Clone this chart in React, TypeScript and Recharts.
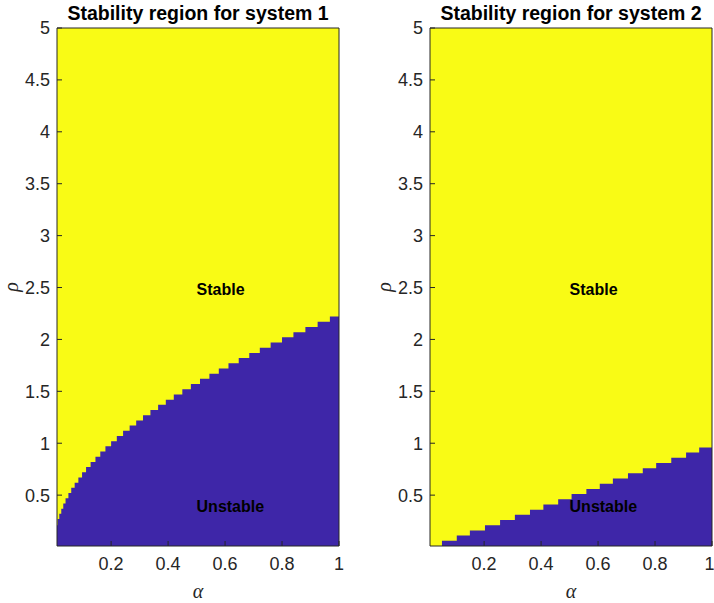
import { ComposedChart, Area, XAxis, YAxis, CartesianGrid, ReferenceDot, Label } from "recharts";

// boundary of the unstable region (alpha -> top of blue area)
const alphaSys1 = [
  0.01, 0.012, 0.018, 0.025, 0.032, 0.04, 0.05, 0.06, 0.072, 0.085, 0.098, 0.112, 0.128, 0.145,
  0.162, 0.18, 0.2, 0.22, 0.242, 0.265, 0.288, 0.312, 0.338, 0.365, 0.392, 0.42, 0.45, 0.48,
  0.512, 0.545, 0.578, 0.612, 0.648, 0.685, 0.722, 0.76, 0.8, 0.84, 0.882, 0.925, 0.968, 1.0,
];
const rhoSys1 = [
  0.21, 0.27, 0.32, 0.37, 0.42, 0.47, 0.52, 0.57, 0.62, 0.67, 0.72, 0.77, 0.82, 0.87,
  0.92, 0.97, 1.02, 1.07, 1.12, 1.17, 1.22, 1.27, 1.32, 1.37, 1.42, 1.47, 1.52, 1.57,
  1.62, 1.67, 1.72, 1.77, 1.82, 1.87, 1.92, 1.97, 2.02, 2.07, 2.12, 2.17, 2.22, 2.22,
];

const alphaSys2 = [
  0.01, 0.052, 0.104, 0.15, 0.203, 0.256, 0.308, 0.361, 0.408, 0.46, 0.507,
  0.559, 0.606, 0.652, 0.705, 0.757, 0.804, 0.857, 0.909, 0.955, 1.0,
];
const rhoSys2 = [
  0.01, 0.06, 0.11, 0.16, 0.21, 0.26, 0.31, 0.36, 0.41, 0.46, 0.51,
  0.56, 0.61, 0.66, 0.71, 0.76, 0.81, 0.86, 0.91, 0.96, 0.96,
];

const alphaTicks = [0.2, 0.4, 0.6, 0.8, 1];
const rhoTicks = [0.5, 1, 1.5, 2, 2.5, 3, 3.5, 4, 4.5, 5];
const titles = ["Stability region for system 1", "Stability region for system 2"];
const regionText = [
  { text: "Stable", alpha: 0.5, rho: 2.48 },
  { text: "Unstable", alpha: 0.5, rho: 0.39 },
];

const STABLE = "#F9FB15";
const UNSTABLE = "#3E26A8";
const AXIS = "#262626";
const SANS = "'Liberation Sans', Arial, sans-serif";
const SERIF = "'Liberation Serif', 'DejaVu Serif', serif";

function Panel({ title, alpha, rho, width, yWidth, right }: any) {
  const data = alpha.map((a: number, i: number) => ({ alpha: a, rho: rho[i] }));
  const rhoX = yWidth - 39;
  return (
    <ComposedChart width={width} height={603} data={data} margin={{ top: 27, right, bottom: 0, left: 0 }}>
      <CartesianGrid horizontal={false} vertical={false} fill={STABLE} fillOpacity={1} />
      <XAxis
        dataKey="alpha"
        type="number"
        domain={[0.01, 1]}
        ticks={alphaTicks}
        allowDataOverflow
        height={57}
        tickSize={-5}
        tickMargin={16}
        stroke={AXIS}
        tick={{ fill: AXIS, fontSize: 18, fontFamily: SANS }}
      >
        <Label value="α" position="insideBottom" offset={5} fill={AXIS} fontSize={20} fontStyle="italic" fontFamily={SERIF} />
      </XAxis>
      <XAxis
        xAxisId="top"
        orientation="top"
        type="number"
        domain={[0.01, 1]}
        ticks={alphaTicks}
        allowDataOverflow
        height={1}
        tickSize={-5}
        tick={false}
        stroke={AXIS}
      >
        <Label value={title} position="top" offset={7} fill="#000" fontSize={19.5} fontWeight="bold" fontFamily={SANS} />
      </XAxis>
      <YAxis
        type="number"
        domain={[0.01, 5]}
        ticks={rhoTicks}
        allowDataOverflow
        width={yWidth}
        tickSize={-5}
        tickMargin={12}
        stroke={AXIS}
        tick={{ fill: AXIS, fontSize: 18, fontFamily: SANS }}
      >
        <Label
          content={() => (
            <text
              x={rhoX}
              y={287}
              transform={`rotate(-90 ${rhoX} 287)`}
              textAnchor="middle"
              fill={AXIS}
              fontSize={20}
              fontStyle="italic"
              fontFamily={SERIF}
            >
              ρ
            </text>
          )}
        />
      </YAxis>
      <YAxis
        yAxisId="right"
        orientation="right"
        type="number"
        domain={[0.01, 5]}
        ticks={rhoTicks}
        allowDataOverflow
        width={1}
        tickSize={-5}
        tick={false}
        stroke={AXIS}
      />
      <Area
        dataKey="rho"
        type="stepAfter"
        baseValue="dataMin"
        fill={UNSTABLE}
        fillOpacity={1}
        stroke="none"
        isAnimationActive={false}
      />
      {regionText.map((r) => (
        <ReferenceDot
          key={r.text}
          x={r.alpha}
          y={r.rho}
          r={0}
          fill="none"
          stroke="none"
          label={{ value: r.text, position: "right", offset: 0, fill: "#000", fontSize: 16, fontWeight: "bold", fontFamily: SANS }}
        />
      ))}
    </ComposedChart>
  );
}

export default function App() {
  return (
    <div style={{ position: "absolute", left: 0, top: 0, width: 714, height: 603, background: "#fff" }}>
      <div style={{ position: "absolute", left: 0, top: 0 }}>
        <Panel title={titles[0]} alpha={alphaSys1} rho={rhoSys1} width={360} yWidth={57} right={20} />
      </div>
      <div style={{ position: "absolute", left: 360, top: 0 }}>
        <Panel title={titles[1]} alpha={alphaSys2} rho={rhoSys2} width={354} yWidth={70} right={1} />
      </div>
    </div>
  );
}
